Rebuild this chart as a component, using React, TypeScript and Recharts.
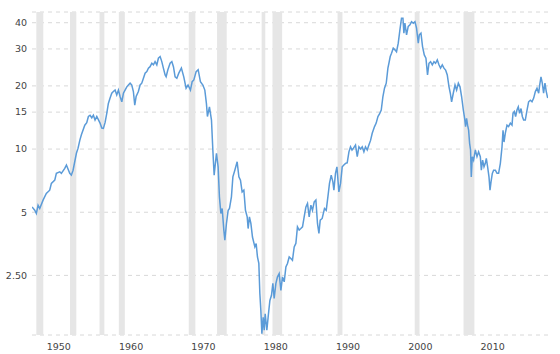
import React from 'react';
import { ComposedChart, Line, XAxis, YAxis, CartesianGrid, ReferenceArea } from 'recharts';

const years = [
  1948.24, 1948.62, 1948.84, 1949.08, 1949.31, 1949.77, 1950.22, 1950.69, 1950.92, 1951.39,
  1951.61, 1952.08, 1952.3, 1952.77, 1953.0, 1953.46, 1953.68, 1953.92, 1954.38, 1954.61,
  1954.85, 1955.07, 1955.54, 1955.81, 1956.04, 1956.27, 1956.51, 1956.73, 1956.96, 1957.2,
  1957.65, 1957.89, 1958.11, 1958.35, 1958.58, 1958.8, 1959.04, 1959.27, 1959.49, 1959.73,
  1959.96, 1960.19, 1960.42, 1960.66, 1960.88, 1961.11, 1961.35, 1961.57, 1961.81, 1962.04,
  1962.26, 1962.45, 1962.64, 1962.95, 1963.19, 1963.42, 1963.65, 1963.88, 1964.12, 1964.34,
  1964.57, 1964.81, 1965.03, 1965.26, 1965.5, 1965.72, 1965.96, 1966.19, 1966.41, 1966.65,
  1966.79, 1967.02, 1967.34, 1967.58, 1967.8, 1968.03, 1968.27, 1968.54, 1968.9, 1969.23,
  1969.55, 1969.82, 1970.15, 1970.39, 1970.62, 1970.94, 1971.22, 1971.53, 1971.87, 1972.14,
  1972.36, 1972.5, 1972.78, 1973.06, 1973.25, 1973.43, 1973.75, 1973.98, 1974.16, 1974.36,
  1974.54, 1974.77, 1974.91, 1975.13, 1975.37, 1975.55, 1975.82, 1976.02, 1976.29, 1976.61,
  1976.85, 1977.07, 1977.3, 1977.54, 1977.76, 1978.0, 1978.13, 1978.31, 1978.51, 1978.73,
  1979.06, 1979.24, 1979.42, 1979.61, 1979.75, 1979.89, 1980.03, 1980.21, 1980.35, 1980.49,
  1980.72, 1980.94, 1981.14, 1981.36, 1981.55, 1981.73, 1981.97, 1982.19, 1982.42, 1982.66,
  1982.88, 1983.12, 1983.35, 1983.57, 1983.81, 1984.04, 1984.26, 1984.5, 1984.73, 1984.95,
  1985.19, 1985.42, 1985.65, 1985.88, 1986.12, 1986.34, 1986.57, 1986.81, 1987.03, 1987.27,
  1987.5, 1987.72, 1987.92, 1988.1, 1988.37, 1988.69, 1988.93, 1989.16, 1989.38, 1989.62,
  1989.85, 1989.99, 1990.21, 1990.41, 1990.68, 1990.91, 1991.14, 1991.37, 1991.6, 1991.83,
  1992.07, 1992.29, 1992.5, 1992.7, 1992.98, 1993.22, 1993.45, 1993.68, 1993.91, 1994.14,
  1994.36, 1994.6, 1994.83, 1995.06, 1995.29, 1995.61, 1995.84, 1996.08, 1996.3, 1996.54,
  1996.77, 1996.99, 1997.23, 1997.46, 1997.6, 1997.78, 1997.96, 1998.2, 1998.43, 1998.65,
  1998.89, 1999.12, 1999.34, 1999.54, 1999.67, 1999.81, 2000.04, 2000.27, 2000.51, 2000.73,
  2000.97, 2001.2, 2001.42, 2001.66, 2001.8, 2002.03, 2002.25, 2002.49, 2002.72, 2002.94,
  2003.14, 2003.36, 2003.6, 2003.83, 2004.05, 2004.29, 2004.52, 2004.74, 2004.98, 2005.21,
  2005.44, 2005.67, 2005.91, 2006.09, 2006.27, 2006.5, 2006.74, 2006.96, 2007.2, 2007.43,
  2007.65, 2007.89, 2008.07, 2008.2, 2008.34, 2008.48, 2008.62, 2008.76, 2008.89, 2008.99,
  2009.13, 2009.31, 2009.55, 2009.78, 2010.0, 2010.24, 2010.38, 2010.56, 2010.75, 2010.93,
  2011.07, 2011.25, 2011.44, 2011.58, 2011.72, 2011.9, 2012.08, 2012.32, 2012.55, 2012.77,
  2013.01, 2013.24, 2013.38, 2013.52, 2013.7, 2013.93, 2014.15, 2014.39, 2014.62, 2014.76,
  2014.94, 2015.12, 2015.31, 2015.49, 2015.67, 2015.87, 2016.05, 2016.23, 2016.46, 2016.7,
  2016.92, 2017.16, 2017.39, 2017.62, 2017.85, 2018.08, 2018.31, 2018.45, 2018.63, 2018.81,
  2018.99, 2019.18, 2019.36, 2019.56,
];

const ratio = [
  5.3, 5.11, 4.93, 5.4, 5.21, 5.71, 6.14, 6.37, 6.86, 7.11,
  7.66, 7.79, 7.66, 8.09, 8.39, 7.66, 7.51, 7.93, 9.55, 10.1,
  11.0, 11.7, 13.0, 13.35, 14.3, 14.5, 14.1, 14.5, 13.75, 14.3,
  13.3, 12.6, 12.55, 13.4, 14.8, 16.5, 17.5, 18.45, 18.8, 19.1,
  18.1, 19.1, 17.8, 16.8, 18.45, 19.1, 19.8, 20.2, 20.6, 20.2,
  18.8, 16.2, 17.8, 18.8, 20.2, 20.6, 21.75, 23.0, 23.4, 24.3,
  24.7, 25.65, 25.2, 26.1, 25.2, 27.1, 27.6, 26.1, 24.3, 22.55,
  22.1, 23.8, 25.65, 26.1, 24.7, 22.1, 21.75, 23.0, 24.3, 22.1,
  19.5, 20.2, 19.1, 20.95, 21.35, 23.4, 23.9, 20.95, 20.2, 19.1,
  16.5, 14.3, 15.9, 13.75, 9.9, 7.51, 9.55, 8.23, 5.92, 4.93,
  5.21, 4.11, 3.68, 4.42, 5.11, 5.21, 5.92, 7.37, 7.93, 8.7,
  7.37, 7.11, 6.25, 6.37, 5.11, 4.75, 4.18, 4.75, 4.42, 3.81,
  3.42, 3.55, 3.06, 2.85, 2.05, 1.7, 1.32, 1.58, 1.37, 1.64,
  1.37, 1.64, 1.9, 2.01, 2.29, 1.94, 2.29, 2.46, 2.55, 2.12,
  2.46, 2.33, 2.74, 2.85, 3.06, 3.01, 2.95, 3.42, 3.55, 4.26,
  4.11, 4.18, 4.26, 4.75, 5.3, 5.51, 4.75, 5.4, 5.11, 5.6,
  5.71, 4.42, 3.96, 4.58, 4.67, 5.21, 5.11, 5.92, 6.86, 7.51,
  6.98, 6.37, 7.66, 8.23, 6.25, 6.86, 8.23, 8.4, 8.55, 8.6,
  9.7, 10.25, 9.9, 10.1, 10.45, 9.2, 10.25, 10.0, 10.25, 9.7,
  10.25, 9.9, 10.45, 11.0, 11.9, 12.8, 13.3, 14.3, 14.7, 15.35,
  17.8, 19.5, 20.6, 24.3, 25.65, 27.6, 28.6, 30.25, 29.7, 29.1,
  31.95, 37.0, 42.06, 42.06, 35.7, 39.8, 35.0, 38.4, 39.1, 40.5,
  39.8, 40.5, 37.7, 31.95, 35.0, 35.7, 30.8, 28.1, 27.1, 22.55,
  25.65, 26.1, 25.2, 26.1, 25.65, 26.6, 25.2, 24.3, 25.2, 24.3,
  23.8, 22.55, 19.8, 18.45, 16.8, 18.45, 20.2, 19.1, 20.6, 19.8,
  17.8, 15.35, 14.0, 12.8, 14.0, 13.0, 12.3, 10.65, 9.9, 7.37,
  9.2, 8.86, 9.9, 9.2, 9.7, 9.2, 7.93, 8.86, 8.23, 8.55,
  9.03, 8.23, 7.37, 6.37, 6.98, 7.66, 7.93, 7.93, 7.66, 7.66,
  8.55, 10.25, 12.3, 10.8, 11.9, 13.0, 12.8, 13.3, 13.0, 14.8,
  15.1, 14.3, 15.35, 15.9, 14.8, 15.6, 14.3, 13.75, 13.75, 15.35,
  16.8, 17.1, 16.8, 17.5, 18.8, 19.5, 18.45, 20.2, 22.1, 20.6,
  18.45, 20.6, 18.8, 17.5,
];

// Recession periods (shaded bands)
const recessionStart = [1948.84, 1953.5, 1957.58, 1960.25, 1969.92, 1973.83, 1980.0, 1981.5, 1990.5, 2001.17, 2007.92];
const recessionEnd = [1949.8, 1954.37, 1958.25, 1961.08, 1970.83, 1975.17, 1980.5, 1982.83, 1991.17, 2001.83, 2009.42];

const yearTicks = [1950, 1960, 1970, 1980, 1990, 2000, 2010];
const ratioTicks = [2.5, 5, 10, 15, 20, 25, 30, 35, 40];

const yearDomain = [1948.24, 2019.6];
const ratioDomain = [1.3, 45];

const data = years.map((year, i) => ({ year, ratio: ratio[i] }));

const labelFont = 'DejaVu Sans, Verdana, sans-serif';

// amCharts-style year labels sit just right of the year boundary
const YearTick = (props: any) => {
  const { x, y, payload } = props;
  return (
    <text x={x + 2} y={y} dy="0.71em" textAnchor="start" fill="#444" fontSize={9.5} fontFamily={labelFont}>
      {payload.value}
    </text>
  );
};

const RatioTick = (props: any) => {
  const { x, y, payload } = props;
  const label = payload.value === 2.5 ? '2.50' : String(payload.value);
  return (
    <text x={x} y={y} dy="0.355em" textAnchor="end" fill="#444" fontSize={9.5} fontFamily={labelFont}>
      {label}
    </text>
  );
};

const App: React.FC = () => {
  // pin to the page corner so the left labels are not pushed off by the body margin
  return (
    <div style={{ position: 'absolute', left: 0, top: 0, width: 560, height: 354 }}>
      <ComposedChart width={560} height={354} data={data} margin={{ top: 12, right: 12, bottom: 0, left: 0 }}>
        {recessionStart.map((start, i) => (
          <ReferenceArea
            key={start}
            x1={start}
            x2={recessionEnd[i]}
            y1={ratioDomain[0]}
            y2={ratioDomain[1]}
            fill="#e6e6e6"
            fillOpacity={1}
            stroke="none"
            ifOverflow="hidden"
          />
        ))}
        <CartesianGrid vertical={false} stroke="#d8d8d8" strokeDasharray="4 4" />
        <XAxis
          dataKey="year"
          type="number"
          domain={yearDomain}
          ticks={yearTicks}
          allowDataOverflow
          axisLine={false}
          tickLine={false}
          tickSize={6}
          tickMargin={2}
          height={19}
          tick={<YearTick />}
        />
        <YAxis
          type="number"
          scale="log"
          domain={ratioDomain}
          ticks={ratioTicks}
          allowDataOverflow
          axisLine={false}
          tickLine={false}
          tickSize={3}
          tickMargin={2}
          width={32}
          tick={<RatioTick />}
        />
        <Line
          type="linear"
          dataKey="ratio"
          stroke="#5b9bd8"
          strokeWidth={1.5}
          dot={false}
          isAnimationActive={false}
        />
      </ComposedChart>
    </div>
  );
};

export default App;
